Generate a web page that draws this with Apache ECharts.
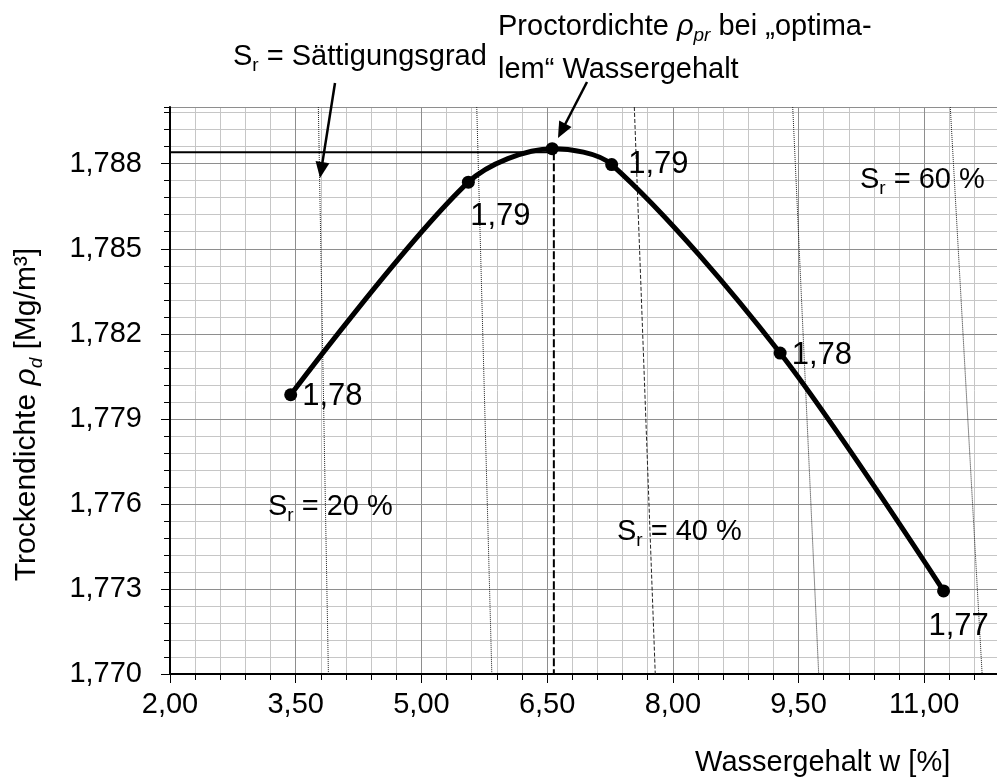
<!DOCTYPE html>
<html>
<head>
<meta charset="utf-8">
<title>Proctorkurve</title>
<script src="https://cdn.jsdelivr.net/npm/echarts@6/dist/echarts.min.js"></script>
<style>
  html, body { margin: 0; padding: 0; background: #ffffff; }
  #chart { width: 997px; height: 783px; }
</style>
</head>
<body>
<div id="chart"></div>
<script>
// Proctor test: dry density against water content
const waterContent = [3.44, 5.56, 6.56, 7.27, 9.28, 11.23];          // w [%]
const dryDensity   = [1.77985, 1.78735, 1.78853, 1.78797, 1.78132, 1.77293]; // rho_d [Mg/m³]

// Proctor density at the optimum water content (guide lines)
const optimumWater   = 6.58;
const optimumDensity = 1.78840;

// Lines of equal degree of saturation: water content at the top and bottom of the density range
const saturationLevels = [20, 30, 40, 50, 60];                 // Sr [%]
const satDensity       = [1.790, 1.770];
const satWaterTop      = [3.77, 5.66, 7.54, 9.43, 11.31];
const satWaterBottom   = [3.89, 5.84, 7.79, 9.74, 11.69];

// Axis ranges and tick steps
const xRange = [2.0, 12.2];
const xMajorStep = 1.5;
const xMinorStep = 0.3;
const yRange = [1.770, 1.790];
const yMajorStep = 0.003;
const yMinorStep = 0.0006;

const FONT = "'Liberation Sans', Arial, Helvetica, sans-serif";
const comma = (v, d) => v.toFixed(d).replace('.', ',');

// Where the value labels sit next to each measured point
const labelPlacement = [
  { position: 'right',  offset: [0, 2] },
  { position: 'bottom', offset: [32, 7] },
  null,
  { position: 'right',  offset: [5, 0] },
  { position: 'right',  offset: [0, 2] },
  { position: 'bottom', offset: [15, 9] }
];
const satLineTypes = ['dotted', 'dotted', 'dashed', 'dotted', 'dotted'];

// Rich-text styles: normal, italic and subscripts
function richSet(size) {
  const sub = Math.round(size * 0.64);
  return {
    n:  { fontSize: size, lineHeight: size + 8, fontFamily: FONT, color: '#000', verticalAlign: 'middle' },
    i:  { fontSize: size, lineHeight: size + 8, fontFamily: FONT, color: '#000', fontStyle: 'italic', verticalAlign: 'middle' },
    s:  { fontSize: sub, lineHeight: sub, fontFamily: FONT, color: '#000', verticalAlign: 'bottom' },
    si: { fontSize: sub, lineHeight: sub, fontFamily: FONT, color: '#000', fontStyle: 'italic', verticalAlign: 'bottom' }
  };
}

const chart = echarts.init(document.getElementById('chart'));

const gridLeft = 170, gridTop = 107, gridBottom = 109;
const pxPerX = 83.81;
const gridRight = 997 - gridLeft - (xRange[1] - xRange[0]) * pxPerX;

const minorSplit = { show: true, lineStyle: { color: '#c6c6c6', width: 1 } };
const majorSplit = { show: true, lineStyle: { color: '#8e8e8e', width: 1 } };

const series = [];

saturationLevels.forEach((s, k) => {
  series.push({
    type: 'line',
    name: 'Sr = ' + s + ' %',
    xAxisIndex: 1, yAxisIndex: 1,
    data: [[satWaterTop[k], satDensity[0]], [satWaterBottom[k], satDensity[1]]],
    symbol: 'none', silent: true, z: 3,
    lineStyle: { color: '#222', width: 1, type: satLineTypes[k] }
  });
});

// Horizontal guide to the y axis and vertical guide to the x axis at the optimum
series.push({
  type: 'line', xAxisIndex: 1, yAxisIndex: 1, symbol: 'none', silent: true, z: 4,
  data: [[xRange[0], optimumDensity], [optimumWater, optimumDensity]],
  lineStyle: { color: '#000', width: 2, type: 'solid' }
});
series.push({
  type: 'line', xAxisIndex: 1, yAxisIndex: 1, symbol: 'none', silent: true, z: 4,
  data: [[optimumWater, optimumDensity], [optimumWater, yRange[0]]],
  lineStyle: { color: '#000', width: 2, type: [8, 3] }
});

// Proctor curve
series.push({
  type: 'line', name: 'Proctorkurve', xAxisIndex: 1, yAxisIndex: 1,
  smooth: 0.3, z: 6,
  symbol: 'circle', symbolSize: 13,
  itemStyle: { color: '#000' },
  lineStyle: { color: '#000', width: 5 },
  label: {
    show: false, fontSize: 31, fontFamily: FONT, color: '#000', distance: 5,
    formatter: p => comma(p.value[1], 2)
  },
  data: waterContent.map((w, k) => {
    const lp = labelPlacement[k];
    return {
      value: [w, dryDensity[k]],
      label: lp ? { show: true, position: lp.position, offset: lp.offset } : { show: false }
    };
  })
});

const option = {
  backgroundColor: '#ffffff',
  animation: false,
  textStyle: { fontFamily: FONT, color: '#000' },
  grid: {
    left: gridLeft, top: gridTop, bottom: gridBottom, right: gridRight,
    containLabel: false, outerBoundsMode: 'none'
  },
  xAxis: [
    {
      type: 'value', position: 'bottom', min: xRange[0], max: xRange[1], interval: xMinorStep,
      axisLine: { show: false },
      axisTick: { show: true, length: 6, lineStyle: { color: '#000', width: 1 } },
      axisLabel: { show: false },
      splitLine: minorSplit
    },
    {
      type: 'value', position: 'bottom', min: xRange[0], max: xRange[1], interval: xMajorStep, z: 2,
      axisLine: { show: true, onZero: false, lineStyle: { color: '#000', width: 2 } },
      axisTick: { show: true, length: 9, lineStyle: { color: '#000', width: 1 } },
      axisLabel: {
        fontSize: 29, fontFamily: FONT, color: '#000', margin: 16,
        showMaxLabel: false, formatter: v => comma(v, 2)
      },
      splitLine: majorSplit,
      name: 'Wassergehalt w [%]',
      nameLocation: 'end',
      nameGap: -(xRange[1] - 11.31) * pxPerX,
      nameTextStyle: {
        fontSize: 29, fontFamily: FONT, color: '#000',
        align: 'right', verticalAlign: 'top', padding: [74, 0, 0, 0]
      }
    }
  ],
  yAxis: [
    {
      type: 'value', position: 'left', min: yRange[0], max: yRange[1], interval: yMinorStep,
      axisLine: { show: false },
      axisTick: { show: true, length: 6, lineStyle: { color: '#000', width: 1 } },
      axisLabel: { show: false },
      splitLine: minorSplit
    },
    {
      type: 'value', position: 'left', min: yRange[0], max: yRange[1], interval: yMajorStep, z: 2,
      axisLine: { show: true, onZero: false, lineStyle: { color: '#000', width: 2 } },
      axisTick: { show: true, length: 9, lineStyle: { color: '#000', width: 1 } },
      axisLabel: {
        fontSize: 29, fontFamily: FONT, color: '#000', margin: 28,
        showMaxLabel: false, formatter: v => comma(v, 3)
      },
      splitLine: majorSplit,
      name: '{n|Trockendichte }{i|ρ}{si|d}{n| [Mg/m³]}',
      nameLocation: 'middle',
      nameRotate: 90,
      nameGap: 124,
      nameTextStyle: { rich: richSet(30), padding: [0, 48, 0, 0] }
    }
  ],
  series: series
};

chart.setOption(option);

// Annotations: texts and arrows
const annRich = richSet(29);
function arrow(tail, tip) {
  const dx = tip[0] - tail[0], dy = tip[1] - tail[1];
  const len = Math.sqrt(dx * dx + dy * dy);
  const ux = dx / len, uy = dy / len, nx = -uy, ny = ux;
  const hl = 16, hw = 7;
  const bx = tip[0] - ux * hl, by = tip[1] - uy * hl;
  return [
    { type: 'line', silent: true, z: 20,
      shape: { x1: tail[0], y1: tail[1], x2: bx + ux * 3, y2: by + uy * 3 },
      style: { stroke: '#000', lineWidth: 2.5 } },
    { type: 'polygon', silent: true, z: 20,
      shape: { points: [tip, [bx + nx * hw, by + ny * hw], [bx - nx * hw, by - ny * hw]] },
      style: { fill: '#000' } }
  ];
}
function label(x, y, text) {
  return {
    type: 'text', x: x, y: y, silent: true, z: 20,
    style: { text: text, rich: annRich, align: 'left', verticalAlign: 'middle',
             fontSize: 29, fontFamily: FONT, fill: '#000' }
  };
}

chart.setOption({
  graphic: [
    label(233, 57, '{n|S}{s|r}{n| = Sättigungsgrad}'),
    label(498, 27, '{n|Proctordichte }{i|ρ}{si|pr}{n| bei „optima-}'),
    label(498, 70, '{n|lem“ Wassergehalt}'),
    label(268, 507, '{n|S}{s|r}{n| = 20 %}'),
    label(617, 532, '{n|S}{s|r}{n| = 40 %}'),
    label(860, 180, '{n|S}{s|r}{n| = 60 %}')
  ]
    .concat(arrow([335, 83], [320, 178]))
    .concat(arrow([587, 82], [558, 138]))
});
</script>
</body>
</html>
